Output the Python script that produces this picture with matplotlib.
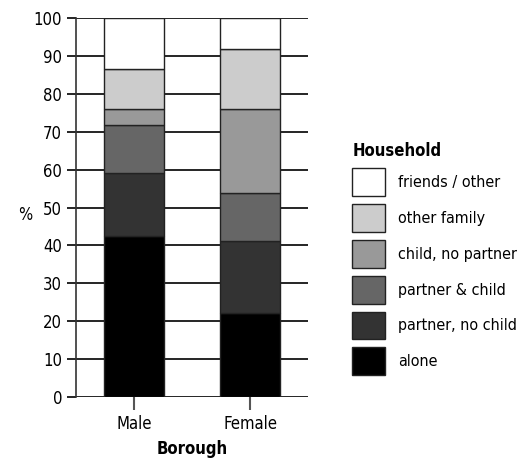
import matplotlib
matplotlib.use("Agg")
import matplotlib.pyplot as plt
import numpy as np

plt.rcParams['font.family'] = ['DejaVu Sans']
plt.rcParams['font.stretch'] = 'condensed'

# --- data ---
boroughs = ['Male', 'Female']
households = ['alone', 'partner, no child', 'partner & child',
              'child, no partner', 'other family', 'friends / other']
alone = [42.4, 22.3]
partner_no_child = [16.7, 18.9]
partner_child = [12.6, 12.6]
child_no_partner = [4.3, 22.2]
other_family = [10.5, 15.9]
friends_other = [13.5, 8.1]
colors = ['#000000', '#333333', '#666666', '#999999', '#cccccc', '#ffffff']

series = [alone, partner_no_child, partner_child, child_no_partner,
          other_family, friends_other]

fig = plt.figure(figsize=(5.24, 4.66), dpi=100)
ax = fig.add_axes([0.145, 0.148, 0.443, 0.813])

x = np.arange(len(boroughs))
bottom = np.zeros(len(boroughs))
handles = []
for vals, col, name in zip(series, colors, households):
    b = ax.bar(x, vals, 0.52, bottom=bottom, color=col, edgecolor='#222222',
               linewidth=1, label=name, zorder=3)
    handles.append(b)
    bottom += np.array(vals)

ax.set_ylim(0, 100)
ax.set_xlim(-0.5, 1.5)
ax.set_yticks(range(0, 101, 10))
ax.yaxis.grid(True, color='black', linewidth=1.2, zorder=0)
ax.set_axisbelow(True)
for s in ['top', 'right', 'bottom']:
    ax.spines[s].set_visible(False)
ax.spines['left'].set_color('#333333')
ax.spines['left'].set_linewidth(1.2)
ax.tick_params(axis='y', length=6.5, width=1.2, color='black', labelsize=12)
ax.tick_params(axis='x', length=9.5, width=1.5, color='#555555', labelsize=12)
ax.set_xticks(x)
ax.set_xticklabels(boroughs)
ax.set_xlabel('Borough', fontsize=12, fontweight='bold', labelpad=5)
ax.set_ylabel('%', fontsize=12, rotation=0, va='center', ha='center')
ax.yaxis.set_label_coords(-0.22, 0.48)

fig.legend(handles[::-1], households[::-1],
           title='Household', loc='upper left',
           bbox_to_anchor=(0.66, 0.708), frameon=False, fontsize=11.5,
           handlelength=2.05, handleheight=2.3, labelspacing=0.5,
           handletextpad=0.8, alignment='left', borderaxespad=0,
           title_fontproperties={'weight': 'bold', 'size': 12})

fig.savefig('out.png', dpi=100)
